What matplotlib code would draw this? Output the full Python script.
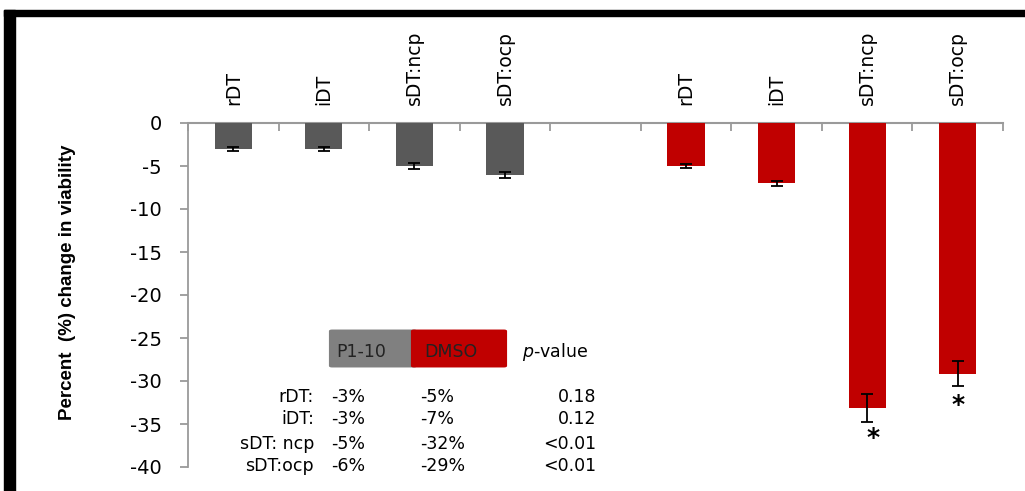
import matplotlib
matplotlib.use("Agg")
import matplotlib.pyplot as plt
from matplotlib.patches import Rectangle, FancyBboxPatch
import numpy as np

# ---- data ----
categories = ["rDT", "iDT", "sDT:ncp", "sDT:ocp", "", "rDT", "iDT", "sDT:ncp", "sDT:ocp"]
p110_vals = [-3, -3, -5, -6]
p110_err = [0.2, 0.2, 0.3, 0.35]
dmso_vals = [-5, -7, -33.15, -29.15]
dmso_err = [0.2, 0.3, 1.65, 1.45]
yticks = [0, -5, -10, -15, -20, -25, -30, -35, -40]
sig_idx = [2, 3]  # DMSO bars marked with *

row_labels = ["rDT:", "iDT:", "sDT: ncp", "sDT:ocp"]
col_p110 = ["-3%", "-3%", "-5%", "-6%"]
col_dmso = ["-5%", "-7%", "-32%", "-29%"]
col_p = ["0.18", "0.12", "<0.01", "<0.01"]

GRAY = "#595959"
RED = "#C00000"
AX = "#9a9a9a"

W, H = 1025, 491
fig = plt.figure(figsize=(W / 100, H / 100), dpi=100)
plt.rcParams["mathtext.fontset"] = "dejavusans"

def fx(px):
    return px / W

def fy(py):
    return 1 - py / H

ax = fig.add_axes([fx(188), fy(467), fx(1003) - fx(188), fy(123) - fy(467)])

x_gray = np.arange(4)
x_red = np.arange(5, 9)
bw = 0.41
ax.bar(x_gray, p110_vals, width=bw, color=GRAY, zorder=2)
ax.bar(x_red, dmso_vals, width=bw, color=RED, zorder=2)
ek = dict(fmt="none", ecolor="black", elinewidth=1.3, capsize=4.5, capthick=1.3, zorder=3)
ax.errorbar(x_gray, p110_vals, yerr=p110_err, **ek)
ax.errorbar(x_red, dmso_vals, yerr=dmso_err, **ek)

# asterisks
for i, off, dx in zip(sig_idx, [1.8, 2.2], [0.07, 0.0]):
    xi = x_red[i]
    ax.text(xi + dx, dmso_vals[i] - dmso_err[i] - off, "*", ha="center", va="center",
            fontsize=18, fontweight="bold", color="black")

ax.set_xlim(-0.5, 8.5)
ax.set_ylim(-40, 0)

for s in ["right", "bottom"]:
    ax.spines[s].set_visible(False)
ax.spines["left"].set_color(AX)
ax.spines["top"].set_color(AX)
ax.spines["left"].set_linewidth(1.3)
ax.spines["top"].set_linewidth(1.5)
ax.spines["top"].set_zorder(1)

ax.set_yticks(yticks)
ax.set_yticklabels([str(v) for v in yticks])
ax.tick_params(axis="y", direction="out", length=6, width=1.3, color=AX, pad=13,
               labelsize=14, labelcolor="black")

ax.xaxis.set_ticks_position("top")
ax.set_xticks(np.arange(9))
ax.set_xticklabels(categories, rotation=90, fontsize=13.5)
ax.tick_params(axis="x", which="major", length=0, pad=13, top=True, bottom=False,
               labeltop=True, labelbottom=False)
ax.set_xticks(np.arange(-0.5, 9.0, 1.0), minor=True)
ax.tick_params(axis="x", which="minor", direction="in", length=6, width=1.3, color=AX,
               top=True, bottom=False)

fig.text(fx(68), fy(282), "Percent  (%) change in viability", rotation=90,
         ha="center", va="center", fontsize=13.5, fontweight="bold",
         family=["Liberation Sans", "DejaVu Sans"])

# frame
fig.patches.append(Rectangle((fx(4), fy(16)), 1 - fx(4), fy(10) - fy(16),
                             transform=fig.transFigure, color="black", zorder=5))
fig.patches.append(Rectangle((fx(4), 0), fx(15) - fx(4), fy(10),
                             transform=fig.transFigure, color="black", zorder=5))

# legend boxes
fig.patches.append(FancyBboxPatch((fx(332), fy(366)), fx(414) - fx(332), fy(331) - fy(366),
                                  boxstyle="round,pad=0.003", transform=fig.transFigure,
                                  facecolor="#808080", edgecolor="none", zorder=4))
fig.patches.append(FancyBboxPatch((fx(414), fy(366)), fx(504) - fx(414), fy(331) - fy(366),
                                  boxstyle="round,pad=0.003", transform=fig.transFigure,
                                  facecolor=RED, edgecolor="none", zorder=4))
fs = 12.5
fig.text(fx(336), fy(352), "P1-10", ha="left", va="center", fontsize=fs, color="#222222", zorder=6)
fig.text(fx(424), fy(352), "DMSO", ha="left", va="center", fontsize=fs, color="#222222", zorder=6)
fig.text(fx(522), fy(352), r"$\it{p}$-value", ha="left", va="center", fontsize=fs, color="black")

row_y = [397, 419, 444, 466]
for lab, a, b, p, yy in zip(row_labels, col_p110, col_dmso, col_p, row_y):
    fig.text(fx(314), fy(yy), lab, ha="right", va="center", fontsize=fs)
    fig.text(fx(331), fy(yy), a, ha="left", va="center", fontsize=fs)
    fig.text(fx(420), fy(yy), b, ha="left", va="center", fontsize=fs)
    fig.text(fx(596), fy(yy), p, ha="right", va="center", fontsize=fs)

fig.savefig("out.png", dpi=100)
